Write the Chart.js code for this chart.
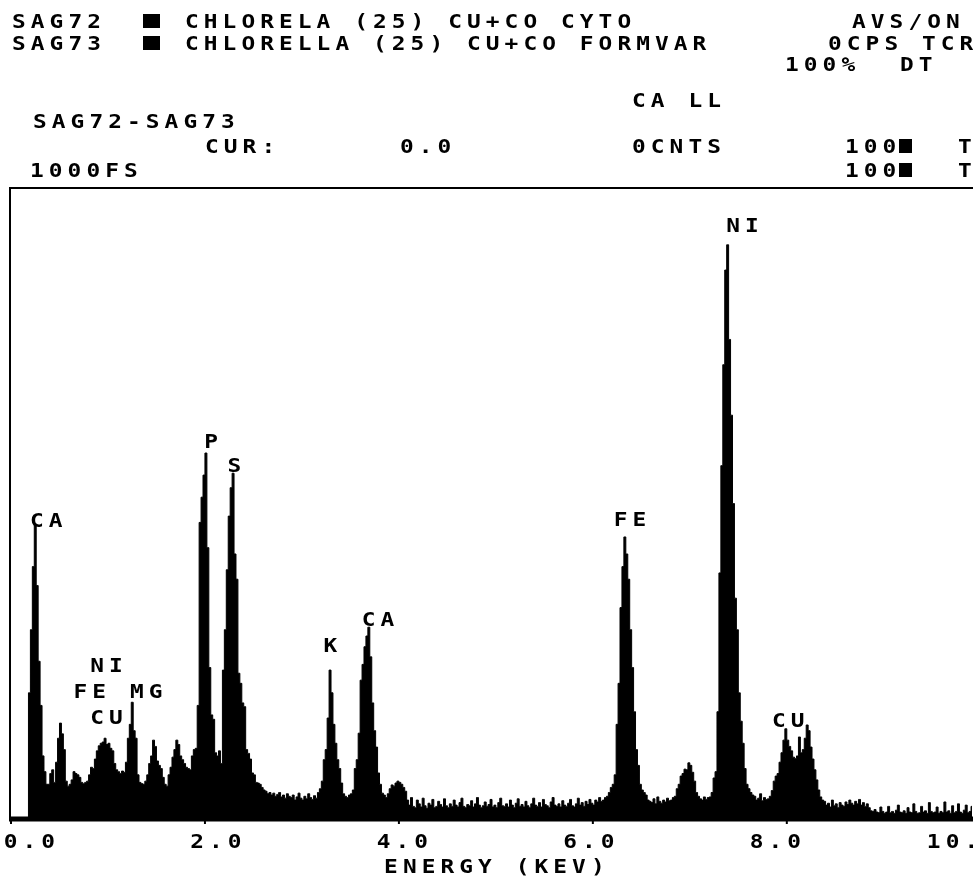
<!DOCTYPE html>
<html>
<head>
<meta charset="utf-8">
<title>SAG72-SAG73 EDS spectrum</title>
<script src="https://cdn.jsdelivr.net/npm/chart.js"></script>
<style>
  html, body { margin: 0; padding: 0; background: #fff; overflow: hidden; }
  canvas { display: block; }
</style>
</head>
<body>
<canvas id="espectro" width="973" height="877"></canvas>
<script>
// spectrum channels: 0.02 keV each, first channel starts at 0 keV
const channelWidth = 0.02;
const counts = [
  0, 0, 0, 0, 0, 0, 0, 0, 0, 200,            // 0
  300, 400, 466, 370, 250, 180, 100, 75, 55, 55,
  72, 78, 58, 90, 128, 152, 135, 110, 60, 52,
  55, 62, 75, 72, 70, 66, 58, 56, 58, 60,
  70, 82, 80, 95, 108, 116, 120, 122, 128, 118,
  120, 112, 108, 88, 78, 75, 72, 76, 74, 90,  // 50
  128, 150, 185, 140, 128, 70, 58, 56, 55, 60,
  70, 88, 100, 125, 115, 92, 85, 80, 66, 55,
  52, 70, 82, 98, 110, 125, 118, 100, 94, 88,
  82, 80, 78, 100, 110, 112, 180, 470, 510, 545,
  580, 430, 240, 165, 158, 105, 100, 108, 88, 236, // 100
  300, 395, 480, 525, 548, 420, 380, 231, 215, 184,
  178, 110, 104, 95, 73, 70, 58, 57, 55, 50,
  46, 44, 40, 42, 38, 41, 36, 39, 42, 35,
  38, 33, 40, 36, 34, 38, 30, 35, 41, 33,
  30, 36, 32, 40, 34, 31, 37, 33, 42, 48,     // 150
  60, 94, 110, 160, 236, 200, 150, 120, 94, 80,
  57, 40, 36, 34, 38, 40, 46, 80, 94, 136,
  220, 245, 273, 290, 304, 257, 184, 140, 114, 73,
  55, 41, 38, 34, 40, 48, 54, 52, 57, 60,
  58, 55, 50, 44, 30, 22, 34, 20, 18, 30,     // 200
  24, 19, 33, 21, 17, 25, 22, 31, 18, 20,
  28, 23, 19, 32, 21, 18, 24, 20, 30, 22,
  19, 26, 33, 20, 18, 23, 21, 29, 19, 24,
  34, 22, 18, 21, 27, 20, 23, 31, 19, 22,
  18, 26, 33, 21, 20, 24, 19, 30, 22, 18,     // 250
  25, 32, 20, 23, 19, 28, 21, 18, 24, 33,
  22, 20, 26, 19, 31, 23, 21, 18, 27, 34,
  22, 20, 24, 19, 29, 22, 20, 25, 31, 21,
  19, 24, 33, 22, 26, 20, 28, 23, 31, 25,
  22, 30, 27, 34, 28, 30, 34, 36, 42, 50,     // 300
  55, 70, 150, 215, 335, 400, 447, 420, 380, 300,
  240, 170, 110, 85, 55, 46, 42, 38, 30, 28,
  26, 32, 24, 35, 28, 25, 30, 27, 33, 29,
  30, 34, 36, 48, 55, 68, 72, 79, 78, 89,
  85, 74, 60, 42, 36, 32, 30, 35, 31, 34,     // 350
  35, 42, 65, 75, 170, 390, 560, 720, 870, 910,
  760, 640, 500, 350, 300, 200, 155, 120, 80, 55,
  48, 42, 38, 36, 30, 33, 40, 29, 34, 31,
  32, 36, 45, 60, 68, 72, 90, 105, 125, 143,
  125, 115, 108, 98, 96, 100, 130, 105, 110, 128, // 400
  149, 140, 114, 95, 78, 62, 46, 35, 30, 28,
  22, 25, 19, 30, 21, 24, 18, 26, 22, 20,
  27, 23, 30, 25, 22, 28, 24, 31, 22, 26,
  20, 24, 18, 13, 12, 15, 11, 10, 19, 12,
  9, 11, 20, 10, 12, 9, 14, 22, 11, 10,       // 450
  13, 9, 18, 11, 10, 24, 12, 9, 10, 20,
  11, 13, 9, 26, 12, 10, 11, 19, 9, 12,
  10, 27, 11, 13, 9, 21, 10, 12, 24, 11,
  9, 14, 22, 10, 12, 20
];

// axis labels of the printout
const tickValues = [0, 2, 4, 6, 8, 10];
const tickLabels = ['0.0', '2.0', '4.0', '6.0', '8.0', '10.0'];

// element labels written above the peaks (keV, counts)
const peakNames  = ['CA', 'NI', 'FE MG', 'CU', 'P', 'S', 'K', 'CA', 'FE', 'NI', 'CU'];
const peakEnergy = [0.36, 0.98, 1.10, 0.98, 2.06, 2.30, 3.29, 3.78, 6.38, 7.54, 8.01];
const peakCounts = [474, 244, 203, 162, 599, 561, 276, 317, 476, 941, 157];

const points = counts.map((c, i) => ({ x: (i + 0.5) * channelWidth, y: c }));

const FONT = 'bold 19px "DejaVu Sans Mono"';
const PITCH = 18.8;

// printer style text: fixed pitch, slightly wide glyphs
function mono(ctx, text, x, y) {
  for (let i = 0; i < text.length; i++) {
    if (text[i] === ' ') continue;
    ctx.save();
    ctx.translate(x + i * PITCH, y);
    ctx.scale(1.2, 1);
    ctx.fillText(text[i], 0, 0);
    ctx.restore();
  }
}
function monoCenter(ctx, text, cx, y) {
  const w = (text.length - 1) * PITCH + 13;
  mono(ctx, text, cx - w / 2, y);
}

const header = [
  ['SAG72', 12, 28], ['CHLORELA (25) CU+CO CYTO', 185, 28], ['AVS/ON', 852, 28],
  ['SAG73', 12, 50], ['CHLORELLA (25) CU+CO FORMVAR', 185, 50], ['0CPS TCR', 828, 50],
  ['100%', 785, 71], ['DT', 900, 71],
  ['CA LL', 632, 107],
  ['SAG72-SAG73', 33, 128],
  ['CUR:', 205, 153], ['0.0', 400, 153], ['0CNTS', 632, 153], ['100', 845, 153], ['T', 958, 153],
  ['1000FS', 30, 177], ['100', 845, 177], ['T', 958, 177]
];

const printout = {
  id: 'printout',
  beforeDraw(chart) {
    const ctx = chart.ctx;
    ctx.save();
    ctx.fillStyle = '#fff';
    ctx.fillRect(0, 0, chart.width, chart.height);
    ctx.restore();
  },
  afterDraw(chart) {
    const ctx = chart.ctx;
    const area = chart.chartArea;
    const x = chart.scales.x, x2 = chart.scales.x2, y = chart.scales.y;
    ctx.save();
    ctx.fillStyle = '#000';
    ctx.strokeStyle = '#000';
    ctx.font = FONT;
    ctx.textBaseline = 'alphabetic';
    ctx.textAlign = 'left';

    header.forEach(h => mono(ctx, h[0], h[1], h[2]));
    // legend markers
    ctx.fillRect(143, 14, 17, 14);
    ctx.fillRect(143, 36, 17, 14);
    ctx.fillRect(899, 139, 13, 14);
    ctx.fillRect(899, 163, 13, 14);

    // frame
    ctx.lineWidth = 2;
    ctx.beginPath();
    ctx.moveTo(area.left - 1, area.bottom);
    ctx.lineTo(area.left - 1, area.top);
    ctx.lineTo(area.right, area.top);
    ctx.stroke();
    ctx.lineWidth = 5;
    ctx.beginPath();
    ctx.moveTo(area.left - 2, area.bottom);
    ctx.lineTo(area.right, area.bottom);
    ctx.stroke();
    ctx.lineWidth = 2;
    tickValues.forEach(v => {
      const px = x.getPixelForValue(v);
      ctx.beginPath();
      ctx.moveTo(px, area.bottom);
      ctx.lineTo(px, area.bottom + 5);
      ctx.stroke();
    });

    // tick labels and axis title
    tickValues.forEach((v, i) => monoCenter(ctx, tickLabels[i], x2.getPixelForValue(v), 848));
    monoCenter(ctx, 'ENERGY (KEV)', (area.left + area.right) / 2 + 2, 873);

    // peak labels
    peakNames.forEach((n, i) => {
      monoCenter(ctx, n, x.getPixelForValue(peakEnergy[i]), y.getPixelForValue(peakCounts[i]) + 7);
    });
    ctx.restore();
  }
};

new Chart(document.getElementById('espectro').getContext('2d'), {
  type: 'line',
  data: {
    datasets: [{
      label: 'SAG72-SAG73',
      data: points,
      stepped: 'middle',
      fill: 'origin',
      backgroundColor: '#000',
      borderColor: '#000',
      borderWidth: 1,
      pointRadius: 0
    }]
  },
  options: {
    responsive: false,
    animation: false,
    events: [],
    layout: { padding: { left: 11, right: 0, top: 188, bottom: 58 } },
    plugins: { legend: { display: false }, tooltip: { enabled: false } },
    scales: {
      x: { type: 'linear', display: false, min: 0, max: 9.92 },
      x2: { type: 'linear', axis: 'x', position: 'bottom', display: false, min: -0.193, max: 10.123 },
      y: { display: false, min: 0, max: 1000 }
    }
  },
  plugins: [printout]
});
</script>
</body>
</html>
